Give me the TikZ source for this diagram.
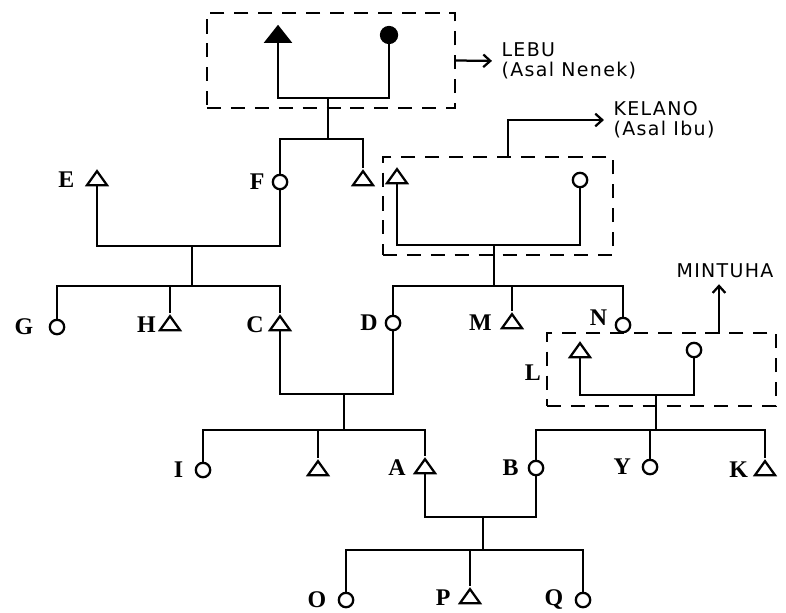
\documentclass[tikz,border=0pt]{standalone}
\usepackage{fontspec}
\setmainfont{Liberation Serif}
\newfontfamily\tayfont[LetterSpace=7]{DejaVu Sans}
\usetikzlibrary{shapes.geometric, positioning, arrows.meta}

\tikzset{
    nam/.style={draw, isosceles triangle, shape border rotate=90,
        isosceles triangle stretches, minimum width=0.5cm,
        minimum height=0.35cm, inner sep=0pt, fill=white},
    nu/.style={draw, circle, minimum size=0.36cm, inner sep=0pt, fill=white},
    ten/.style={font=\fontsize{17}{19}\selectfont\bfseries, inner sep=0pt},
    chu/.style={font=\tayfont\fontsize{13.5}{14}\selectfont, align=left, inner sep=1pt},
    khung/.style={draw, dash pattern=on 10pt off 7pt, inner sep=0pt}
}

\begin{document}
\begin{tikzpicture}[x=0.025cm, y=-0.025cm, line width=1.6pt, >={Straight Barb[length=5pt, width=9pt]}]
    \useasboundingbox (0,0) rectangle (786,612);

    % 1. Khung LEBU (ông bà)
    \node[khung, minimum width=6.2cm, minimum height=2.375cm] (lebu) at (331,60.5) {};
    \node[nam, fill=black, minimum width=0.6cm, minimum height=0.38cm] (ong) at (278,36) {};
    \node[nu, fill=black, minimum size=0.4cm] (ba) at (389,35) {};
    \coordinate (c1) at (328,98);
    \draw (ong.south) |- (c1) -| (ba.south);
    \node[chu, anchor=west] (lebu-t) at (499,61) {LEBU\\(Asal Nenek)};
    \draw[->, shorten >=5pt] (lebu.east) -- (lebu-t.west);

    % 2. Thế hệ F, E
    \node[nu] (F) at (280,182) {};
    \node[nam] (Fb) at (363,180) {};
    \coordinate (s1) at (328,139);
    \draw (c1) -- (s1);
    \draw (F.north) |- (s1) -| (Fb.north);
    \node[nam] (E) at (97,180) {};
    \coordinate (c2) at (192,246);
    \draw (E.south) |- (c2) -| (F.south);

    % 3. Khung KELANO
    \node[khung, minimum width=5.75cm, minimum height=2.45cm] (kelano) at (498,206) {};
    \node[nam] (kt) at (397,178) {};
    \node[nu] (kc) at (580,180) {};
    \coordinate (c3) at (494,245);
    \draw (kt.south) |- (c3) -| (kc.south);
    \coordinate (k-a) at (508,157);
    \node[chu, anchor=west] (kelano-t) at (611,120) {KELANO\\(Asal Ibu)};
    \draw[->, shorten >=5pt] (k-a) |- (kelano-t.west);

    % 4. Thế hệ G ... N
    \node[nu] (G) at (57,327) {};
    \node[nam] (H) at (170,325) {};
    \node[nam] (C) at (280,325) {};
    \coordinate (s2) at (192,286);
    \draw (c2) -- (s2);
    \draw (G.north) |- (s2) -| (C.north);
    \draw (H.north) -- (H.north |- s2);
    \node[nu] (D) at (393,323) {};
    \node[nam] (M) at (512,323) {};
    \node[nu] (N) at (623,325) {};
    \coordinate (s3) at (494,286);
    \draw (c3) -- (s3);
    \draw (D.north) |- (s3) -| (N.north);
    \draw (M.north) -- (M.north |- s3);

    % 5. Khung MINTUHA
    \node[khung, minimum width=5.725cm, minimum height=1.825cm] (mintuha) at (661.5,369.5) {};
    \node[nam] (L) at (580,352) {};
    \node[nu] (Lc) at (694,350) {};
    \coordinate (c5) at (656,395);
    \draw (L.south) |- (c5) -| (Lc.south);
    \coordinate (m-a) at (719,333);
    \node[chu, anchor=south] (mintuha-t) at (725,280) {MINTUHA};
    \draw[->, shorten >=3pt] (m-a) -- (m-a |- mintuha-t.south);

    % 6. Thế hệ I ... K
    \node[nu] (I) at (203,470) {};
    \node[nam] (ib) at (318,470) {};
    \node[nam] (A) at (425,468) {};
    \coordinate (c4) at (344,394);
    \draw (C.south) |- (c4) -| (D.south);
    \coordinate (s4) at (344,430);
    \draw (c4) -- (s4);
    \draw (I.north) |- (s4) -| (A.north);
    \draw (ib.north) -- (ib.north |- s4);
    \node[nu] (B) at (536,468) {};
    \node[nu] (Y) at (650,467) {};
    \node[nam] (K) at (765,470) {};
    \coordinate (s5) at (656,430);
    \draw (c5) -- (s5);
    \draw (B.north) |- (s5) -| (K.north);
    \draw (Y.north) -- (Y.north |- s5);

    % 7. Thế hệ O, P, Q
    \node[nu] (O) at (346,600) {};
    \node[nam] (P) at (470,598) {};
    \node[nu] (Q) at (583,600) {};
    \coordinate (c6) at (483,517);
    \draw (A.south) |- (c6) -| (B.south);
    \coordinate (s6) at (483,550);
    \draw (c6) -- (s6);
    \draw (O.north) |- (s6) -| (Q.north);
    \draw (P.north) -- (P.north |- s6);

    % 8. Nhãn
    \foreach \n/\d in {E/0.34cm, F/0.15cm, G/0.36cm, H/0.13cm, C/0.18cm, D/0.15cm,
        M/0.28cm, I/0.26cm, A/0.26cm, B/0.2cm, Y/0.24cm, K/0.2cm, O/0.26cm, P/0.26cm, Q/0.26cm} {
        \node[ten, left=\d of \n] (\n-l) {\n};
    }
    \node[ten, left=0.16cm of N, yshift=5pt] (N-l) {N};
    \node[ten, left=0.1cm of mintuha, yshift=-2pt] (L-l) {L};
\end{tikzpicture}
\end{document}
